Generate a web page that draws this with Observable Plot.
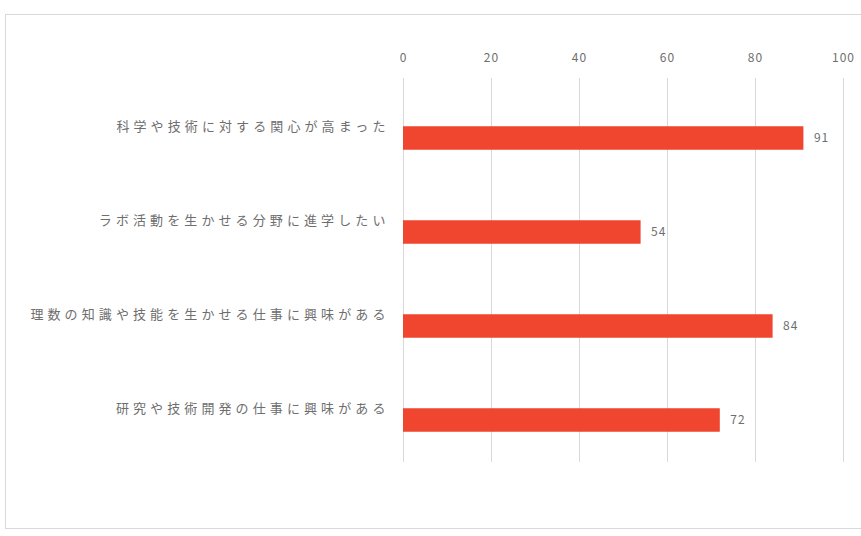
<!DOCTYPE html>
<html>
<head>
<meta charset="utf-8">
<script src="https://cdn.jsdelivr.net/npm/d3@7"></script>
<script src="https://cdn.jsdelivr.net/npm/@observablehq/plot@0.6"></script>
<style>
  html, body { margin: 0; padding: 0; background: #fff; }
  #wrap { position: relative; width: 861px; height: 536px; overflow: hidden; }
  #border { position: absolute; left: 5px; top: 14px; width: 900px; height: 515px; border: 1px solid #d9d9d9; box-sizing: border-box; }
  #chart { position: absolute; left: 0; top: 0; }
  #chart svg text { letter-spacing: 1px; }
  #chart .ylab text { letter-spacing: 4.1px; }
</style>
</head>
<body>
<div id="wrap"><div id="border"></div><div id="chart"></div></div>
<script>
const categories = [
  "科学や技術に対する関心が高まった",
  "ラボ活動を生かせる分野に進学したい",
  "理数の知識や技能を生かせる仕事に興味がある",
  "研究や技術開発の仕事に興味がある"
];
const values = [91, 54, 84, 72];
const xTicks = [0, 20, 40, 60, 80, 100];

const data = categories.map((c, i) => ({category: c, value: values[i]}));

const plot = Plot.plot({
  width: 861,
  height: 536,
  marginLeft: 403,
  marginRight: 18,
  marginTop: 78,
  marginBottom: 74,
  style: {fontFamily: "'Noto Sans CJK JP', 'Noto Sans', sans-serif", fontSize: "12px", color: "#595959", background: "transparent"},
  x: {domain: [0, 100], ticks: xTicks, axis: null},
  y: {domain: categories, range: [78, 456], padding: 0, axis: null},
  marks: [
    Plot.gridX(xTicks, {stroke: "#d9d9d9", strokeOpacity: 1}),
    Plot.axisX({anchor: "top", ticks: xTicks, tickSize: 0, tickPadding: 17, fontSize: 12, fill: "#6e6e6e", label: null}),
    Plot.axisY({anchor: "left", tickSize: 0, tickPadding: 14, fontSize: 13, fill: "#6e6e6e", className: "ylab", label: null}),
    Plot.barX(data, {x: "value", y: "category", fill: "#f0452f", insetTop: 35.25, insetBottom: 35.25, dy: 12}),
    Plot.text(data, {x: "value", y: "category", text: d => String(d.value), dx: 10, dy: 12, textAnchor: "start", fill: "#6e6e6e", fontSize: 12})
  ]
});
document.getElementById("chart").appendChild(plot);
</script>
</body>
</html>
